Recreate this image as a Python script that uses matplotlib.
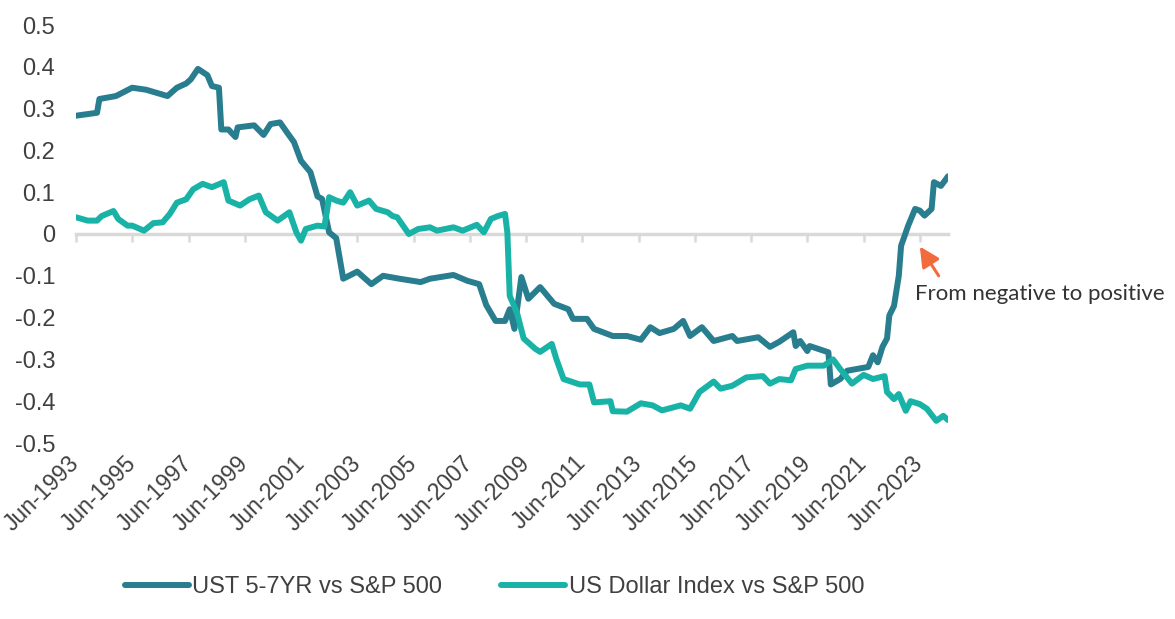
import matplotlib
matplotlib.use("Agg")
import matplotlib.pyplot as plt
import matplotlib.dates as mdates
from matplotlib.ticker import FuncFormatter
import pandas as pd

# UST 5-7YR vs S&P 500 rolling correlation
UST_DATES = [
    "1993-06", "1994-03", "1994-04", "1994-11", "1995-06", "1995-12", "1996-09",
    "1997-01", "1997-05", "1997-07", "1997-10", "1998-02", "1998-04", "1998-07",
    "1998-08", "1998-11", "1999-02", "1999-03", "1999-10", "2000-02", "2000-05",
    "2000-09", "2000-12", "2001-03", "2001-06", "2001-10", "2002-01", "2002-03",
    "2002-06", "2002-09", "2002-12", "2003-06", "2003-12", "2004-05", "2004-12",
    "2005-09", "2006-01", "2006-11", "2007-05", "2007-10", "2008-01", "2008-05",
    "2008-09", "2008-11", "2009-01", "2009-04", "2009-07", "2009-12", "2010-06",
    "2010-12", "2011-02", "2011-08", "2011-11", "2012-07", "2013-01", "2013-07",
    "2013-11", "2014-03", "2014-09", "2015-01", "2015-04", "2015-09", "2016-02",
    "2016-10", "2016-12", "2017-09", "2018-02", "2018-06", "2018-12", "2019-01",
    "2019-03", "2019-06", "2019-07", "2020-03", "2020-04", "2020-08", "2020-11",
    "2021-08", "2021-10", "2021-12", "2022-02", "2022-04", "2022-05", "2022-07",
    "2022-09", "2022-10", "2022-11", "2023-01", "2023-04", "2023-06", "2023-08",
    "2023-11", "2023-12", "2024-03", "2024-05", "2024-06",
]
UST_VALUES = [
    0.283, 0.29, 0.323, 0.33, 0.35, 0.345, 0.33,
    0.35, 0.36, 0.37, 0.395, 0.38, 0.354, 0.35,
    0.25, 0.25, 0.232, 0.255, 0.26, 0.237, 0.263,
    0.267, 0.243, 0.22, 0.175, 0.148, 0.09, 0.084,
    0.004, -0.01, -0.107, -0.09, -0.12, -0.1, -0.107,
    -0.115, -0.107, -0.098, -0.112, -0.12, -0.17, -0.208,
    -0.208, -0.18, -0.227, -0.103, -0.155, -0.127, -0.167,
    -0.18, -0.203, -0.203, -0.227, -0.244, -0.244, -0.253,
    -0.223, -0.237, -0.227, -0.208, -0.244, -0.223, -0.256,
    -0.244, -0.256, -0.247, -0.27, -0.258, -0.235, -0.268,
    -0.256, -0.28, -0.268, -0.283, -0.36, -0.347, -0.327,
    -0.318, -0.29, -0.307, -0.27, -0.25, -0.195, -0.172,
    -0.1, -0.028, -0.012, 0.02, 0.06, 0.056, 0.044,
    0.06, 0.124, 0.115, 0.13, 0.138,
]

# US Dollar Index vs S&P 500 rolling correlation
USD_DATES = [
    "1993-06", "1993-11", "1994-03", "1994-05", "1994-10", "1994-12", "1995-04",
    "1995-06", "1995-11", "1996-03", "1996-07", "1996-10", "1997-01", "1997-05",
    "1997-08", "1997-12", "1998-04", "1998-09", "1998-11", "1999-04", "1999-08",
    "1999-12", "2000-03", "2000-08", "2001-01", "2001-04", "2001-06", "2001-08",
    "2002-01", "2002-04", "2002-06", "2002-09", "2002-12", "2003-03", "2003-06",
    "2003-11", "2004-02", "2004-07", "2004-09", "2004-11", "2005-04", "2005-08",
    "2006-01", "2006-04", "2006-11", "2007-03", "2007-09", "2007-12", "2008-03",
    "2008-06", "2008-09", "2008-10", "2008-11", "2009-02", "2009-05", "2009-10",
    "2009-12", "2010-05", "2010-07", "2010-10", "2011-05", "2011-09", "2011-11",
    "2012-06", "2012-07", "2013-01", "2013-07", "2013-12", "2014-04", "2014-12",
    "2015-04", "2015-08", "2016-02", "2016-05", "2016-10", "2017-04", "2017-11",
    "2018-02", "2018-06", "2018-11", "2019-01", "2019-06", "2020-01", "2020-05",
    "2020-08", "2021-01", "2021-06", "2021-10", "2022-03", "2022-04", "2022-07",
    "2022-09", "2022-12", "2023-02", "2023-06", "2023-09", "2024-01", "2024-04",
    "2024-06",
]
USD_VALUES = [
    0.04, 0.032, 0.032, 0.043, 0.055, 0.036, 0.02,
    0.02, 0.008, 0.026, 0.028, 0.048, 0.075, 0.083,
    0.107, 0.12, 0.112, 0.124, 0.08, 0.068, 0.083,
    0.092, 0.052, 0.032, 0.052, 0.004, -0.016, 0.012,
    0.02, 0.018, 0.088, 0.08, 0.075, 0.1, 0.068,
    0.08, 0.06, 0.052, 0.043, 0.04, 0.0, 0.012,
    0.016, 0.008, 0.016, 0.008, 0.022, 0.004, 0.036,
    0.043, 0.048, 0.004, -0.148, -0.187, -0.25, -0.275,
    -0.282, -0.263, -0.3, -0.347, -0.36, -0.36, -0.403,
    -0.4, -0.424, -0.425, -0.405, -0.41, -0.422, -0.41,
    -0.418, -0.378, -0.353, -0.37, -0.363, -0.343, -0.34,
    -0.358, -0.347, -0.35, -0.323, -0.315, -0.315, -0.3,
    -0.323, -0.358, -0.337, -0.347, -0.34, -0.378, -0.395,
    -0.383, -0.423, -0.4, -0.407, -0.418, -0.447, -0.435,
    -0.445,
]

TICK_YEARS = list(range(1993, 2024, 2))
Y_TICKS = [0.5, 0.4, 0.3, 0.2, 0.1, 0, -0.1, -0.2, -0.3, -0.4, -0.5]

DARK = "#287d8e"
TEAL = "#19b2a6"
ARROW = "#f26b3d"
TXT = "#404040"
GRID = "#d9d9d9"

plt.rcParams["font.family"] = ["Liberation Sans", "DejaVu Sans"]

ust = pd.Series(UST_VALUES, index=pd.to_datetime(UST_DATES))
usd = pd.Series(USD_VALUES, index=pd.to_datetime(USD_DATES))

fig = plt.figure(figsize=(11.75, 6.19), dpi=100)
ax = fig.add_axes([76 / 1175, 1 - 443 / 619, 872 / 1175, 418 / 619])

ax.plot(ust.index, ust.values, color=DARK, lw=4.3, zorder=3,
        solid_joinstyle="round", solid_capstyle="round",
        label="UST 5-7YR vs S&P 500")
ax.plot(usd.index, usd.values, color=TEAL, lw=4.3, zorder=3,
        solid_joinstyle="round", solid_capstyle="round",
        label="US Dollar Index vs S&P 500")

ax.set_xlim(pd.Timestamp("1993-06-01"), pd.Timestamp("2024-06-01"))
ax.set_ylim(-0.5, 0.5)
ax.set_yticks(Y_TICKS)
ax.yaxis.set_major_formatter(FuncFormatter(lambda v, _: f"{round(v, 1) + 0:g}"))

for s in ("top", "right", "left"):
    ax.spines[s].set_visible(False)
ax.spines["bottom"].set_position(("data", 0))
ax.spines["bottom"].set_color(GRID)
ax.spines["bottom"].set_linewidth(2.5)

ticks = [pd.Timestamp(f"{y}-06-01") for y in TICK_YEARS]
ax.set_xticks(ticks)
ax.tick_params(axis="x", direction="out", length=6, width=1.8, color=GRID,
               labelbottom=False)
ax.tick_params(axis="y", length=0, pad=15, labelsize=17, labelcolor=TXT)

# labels sit at the bottom of the plot, not on the zero line
sec = ax.secondary_xaxis("bottom")
sec.set_xticks([mdates.date2num(t) for t in ticks])
sec.xaxis.set_major_formatter(mdates.DateFormatter("%b-%Y"))
sec.spines["bottom"].set_visible(False)
sec.tick_params(length=0, pad=12, labelsize=16.5, labelcolor=TXT)
for lab in sec.get_xticklabels():
    lab.set_rotation(45)
    lab.set_ha("right")
    lab.set_va("center")
    lab.set_rotation_mode("anchor")

ax.annotate("", xy=(pd.Timestamp("2023-06-01"), -0.03),
            xytext=(pd.Timestamp("2024-02-01"), -0.1),
            arrowprops=dict(arrowstyle="-|>,head_length=0.6,head_width=0.3",
                            mutation_scale=20, color=ARROW, lw=2.2,
                            shrinkA=0, shrinkB=0))
ax.text(pd.Timestamp("2023-04-01"), -0.143, "From negative to positive",
        fontsize=16, color="#333333", family=["Lato", "DejaVu Sans"],
        va="center", ha="left", clip_on=False)

fig.legend(loc="center", bbox_to_anchor=(0.421, 0.052), ncol=2, frameon=False,
           fontsize=17, labelcolor=TXT, handlelength=2.7, handletextpad=0.15,
           columnspacing=2.5)

fig.savefig("out.png", dpi=100)
